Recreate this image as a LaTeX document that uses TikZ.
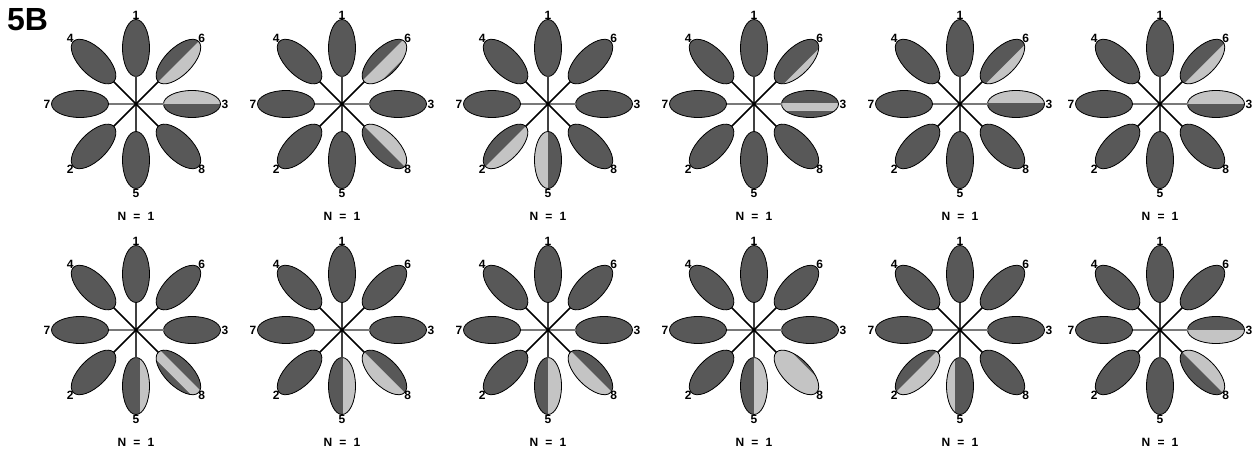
\documentclass[tikz,border=0pt]{standalone}
\usepackage{fontspec}
\setsansfont{Liberation Sans}
\usepackage{tikz}
\usetikzlibrary{calc}
\usepackage{xcolor}
\definecolor{petaldark}{RGB}{88,88,88}
\definecolor{petallight}{RGB}{196,196,196}
\definecolor{spokegray}{RGB}{120,120,120}
\tikzset{
  petal/.style={fill=petaldark},
  petaledge/.style={draw=black, line width=0.8pt},
  lightpart/.style={fill=petallight},
  spoke/.style={line width=1.7pt, color=black},
  vspoke/.style={line width=1.3pt, color=black!75},
  hspoke/.style={line width=1.2pt, color=spokegray},
  petallabel/.style={font=\sffamily\bfseries\fontsize{12}{14}\selectfont, inner sep=0pt},
  countlabel/.style={font=\sffamily\bfseries\fontsize{12}{14}\selectfont, inner sep=0pt},
  panellabel/.style={font=\sffamily\bfseries\fontsize{32}{36}\selectfont, inner sep=0pt, anchor=north west},
}
% #1 name, #2 centre, #3 light parts {angle/from/to, ...}
\newcommand{\drawflower}[3]{%
  \coordinate (#1) at (#2);
  % dark petals
  \foreach \ang/\lab in {90/1,45/6,0/3,-45/8,-90/5,-135/2,180/7,135/4}{
    \pgfmathsetmacro{\dist}{mod(\ang+360,90)==0 ? 56 : 60}
    \pgfmathsetmacro{\ldist}{mod(\ang+360,90)==0 ? 89 : 93}
    \begin{scope}[shift={(#2)}, rotate=\ang]
      \path[petal] (\dist,0) ellipse (28.5 and 13.5);
      \coordinate (#1-\lab) at (\dist-28.5,0);
    \end{scope}
    \node[petallabel] (#1-l\lab) at ($(#2)+(\ang:\ldist)$) {\lab};
  }
  % light halves
  \foreach \ang/\a/\b in {#3}{
    \pgfmathsetmacro{\dist}{mod(\ang+360,90)==0 ? 56 : 60}
    \begin{scope}[shift={(#2)}, rotate=\ang]
      \begin{scope}
        \clip (\dist,0) ellipse (28.5 and 13.5);
        \path[lightpart] (\dist-30,\a*13.5) rectangle (\dist+30,\b*13.5);
      \end{scope}
    \end{scope}
  }
  % outlines
  \foreach \ang in {90,45,0,-45,-90,-135,180,135}{
    \pgfmathsetmacro{\dist}{mod(\ang+360,90)==0 ? 56 : 60}
    \begin{scope}[shift={(#2)}, rotate=\ang]
      \path[petaledge] (\dist,0) ellipse (28.5 and 13.5);
    \end{scope}
  }
  % spokes
  \foreach \lab/\sty in {1/vspoke,5/vspoke,3/hspoke,7/hspoke,6/spoke,8/spoke,2/spoke,4/spoke}
    \draw[\sty] (#1) -- (#1-\lab);
  \fill (#1) circle (1.8);
  \node[countlabel] (#1-n) at ($(#2)+(0,-112)$) {N\hspace{0.6em}=\hspace{0.6em}1};
}

\begin{document}
\begin{tikzpicture}[x=1pt, y=1pt]
  \useasboundingbox (0,0) rectangle (1254,448);
  \fill[white] (0,0) rectangle (1254,448);

  \node[panellabel] (title) at (7,440) {5B};

  % Top row
  \drawflower{f1}{136,344}{45/-1/0, 0/0/1}
  \drawflower{f2}{342,344}{45/-0.85/0.15, -45/0/1}
  \drawflower{f3}{548,344}{-135/0/1, -90/-1/0}
  \drawflower{f4}{754,344}{45/-1/-0.5, 0/-0.5/0.1}
  \drawflower{f5}{960,344}{45/-1/-0.3, 0/0.1/1}
  \drawflower{f6}{1160,344}{45/-1/-0.2, 0/0/1}

  % Bottom row
  \drawflower{f7}{136,118}{-90/0.3/1, -45/-0.5/0.2}
  \drawflower{f8}{342,118}{-90/0.1/1, -45/-1/0}
  \drawflower{f9}{548,118}{-90/0/1, -45/-1/0.1}
  \drawflower{f10}{754,118}{-90/0/1, -45/-1/0.8}
  \drawflower{f11}{960,118}{-135/-0.1/1, -90/-1/-0.4}
  \drawflower{f12}{1160,118}{0/-1/0, -45/0/1}

\end{tikzpicture}
\end{document}
